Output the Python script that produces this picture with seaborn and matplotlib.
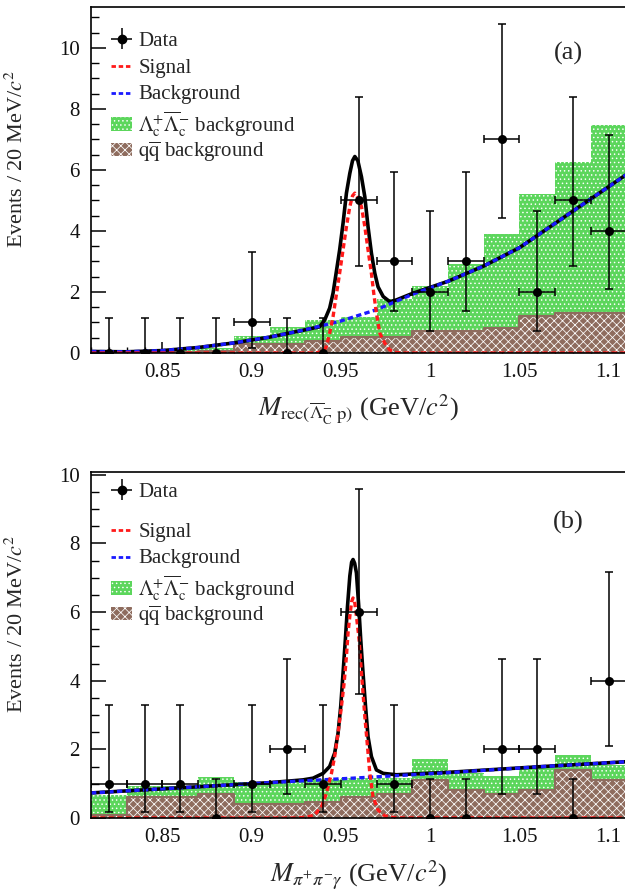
import matplotlib
matplotlib.use("Agg")
import numpy as np
import pandas as pd
import seaborn as sns
import matplotlib.pyplot as plt
from matplotlib.lines import Line2D
from matplotlib.patches import Patch
from matplotlib.ticker import MultipleLocator, FuncFormatter

# ---------------- data ----------------
bin_edges = [0.81, 0.83, 0.85, 0.87, 0.89, 0.91, 0.93, 0.95, 0.97, 0.99,
             1.01, 1.03, 1.05, 1.07, 1.09, 1.11]
bin_centers = [0.82, 0.84, 0.86, 0.88, 0.90, 0.92, 0.94, 0.96, 0.98, 1.00,
               1.02, 1.04, 1.06, 1.08, 1.10]

# panel (a)
data_a = [0, 0, 0, 0, 1, 0, 0, 5, 3, 2, 3, 7, 2, 5, 4]
errlo_a = [0, 0, 0, 0, 0.83, 0, 0, 2.16, 1.63, 1.29, 1.63, 2.58, 1.29, 2.16, 1.91]
errhi_a = [1.15, 1.15, 1.15, 1.15, 2.30, 1.15, 1.15, 3.38, 2.92, 2.64, 2.92, 3.77, 2.64, 3.38, 3.16]
lclc_a = [0.02, 0.02, 0.09, 0.15, 0.57, 0.86, 1.07, 1.17, 1.77, 2.2, 2.91, 3.89, 5.2, 6.25, 7.47]
qq_a = [0.02, 0.0, 0.02, 0.05, 0.28, 0.28, 0.39, 0.52, 0.52, 0.71, 0.71, 0.82, 1.2, 1.3, 1.3]

bkg_x_a = [0.81, 0.83, 0.85, 0.87, 0.89, 0.91, 0.93, 0.95, 0.97, 0.99, 1.01, 1.03, 1.05, 1.07, 1.09, 1.11]
bkg_y_a = [0.05, 0.04, 0.08, 0.18, 0.33, 0.52, 0.76, 1.05, 1.42, 1.92, 2.35, 2.85, 3.45, 4.25, 5.05, 5.85]
sig_x_a = [0.81, 0.935, 0.94, 0.9418, 0.9437, 0.9456, 0.9473, 0.9493, 0.9512, 0.9531, 0.955, 0.9565,
           0.9578, 0.9595, 0.9615, 0.9634, 0.9652, 0.9671, 0.9684, 0.9699, 0.9718, 0.9746, 0.9774,
           0.98, 0.985, 1.11]
sig_y_a = [0, 0, 0.04, 0.2, 0.65, 1.19, 1.85, 2.62, 3.38, 4.14, 4.8, 5.15,
           5.24, 5.09, 4.8, 4.14, 3.38, 2.61, 1.96, 1.3, 0.65, 0.32, 0.1,
           0.02, 0, 0]
tot_x_a = [0.81, 0.83, 0.85, 0.87, 0.89, 0.91, 0.93, 0.9381, 0.9409, 0.9437, 0.9456, 0.9473,
           0.9493, 0.9512, 0.9531, 0.955, 0.9565, 0.9578, 0.9595, 0.9615, 0.9634, 0.9652,
           0.9671, 0.969, 0.9708, 0.9737, 0.9774, 0.9811, 0.99, 1.01, 1.03, 1.05, 1.07, 1.09, 1.11]
tot_y_a = [0.05, 0.04, 0.08, 0.18, 0.33, 0.52, 0.76, 0.86, 1.08, 1.47, 1.96, 2.61,
           3.38, 4.25, 5.24, 5.89, 6.3, 6.44, 6.3, 5.78, 5.12, 4.14,
           3.27, 2.61, 2.17, 1.85, 1.68, 1.74, 1.95, 2.35, 2.85, 3.45, 4.25, 5.05, 5.85]

# panel (b)
data_b = [1, 1, 1, 0, 1, 2, 1, 6, 1, 0, 0, 2, 2, 0, 4]
errlo_b = [0.83, 0.83, 0.83, 0, 0.83, 1.29, 0.83, 2.38, 0.83, 0, 0, 1.29, 1.29, 0, 1.91]
errhi_b = [2.30, 2.30, 2.30, 1.15, 2.30, 2.64, 2.30, 3.58, 2.30, 1.15, 1.15, 2.64, 2.64, 1.15, 3.16]
lclc_b = [0.68, 0.93, 0.93, 1.19, 1.04, 1.04, 1.15, 1.17, 1.17, 1.71, 1.31, 1.21, 1.45, 1.84, 1.55]
qq_b = [0.1, 0.6, 0.6, 0.7, 0.41, 0.41, 0.47, 0.61, 0.7, 1.11, 0.82, 0.7, 0.82, 1.4, 1.11]

bkg_x_b = [0.81, 0.86, 0.91, 0.96, 1.01, 1.06, 1.11]
bkg_y_b = [0.73, 0.88, 1.03, 1.17, 1.32, 1.49, 1.64]
sig_x_b = [0.81, 0.925, 0.9307, 0.9353, 0.9391, 0.9419, 0.9447, 0.9465, 0.9484, 0.9503, 0.9518,
           0.9531, 0.954, 0.955, 0.956, 0.9568, 0.9577, 0.9587, 0.9602, 0.9611, 0.9621, 0.9634,
           0.9649, 0.9662, 0.968, 0.9708, 0.9746, 0.98, 0.985, 1.11]
sig_y_b = [0, 0, 0.02, 0.09, 0.33, 0.72, 1.3, 1.79, 2.47, 3.25, 3.93,
           4.71, 5.39, 5.88, 6.3, 6.41, 6.3, 5.88, 5.2, 4.52, 3.83, 2.96,
           2.08, 1.3, 0.62, 0.23, 0.06, 0.01, 0, 0]
tot_x_b = [0.81, 0.86, 0.91, 0.9287, 0.9344, 0.94, 0.9437, 0.9465, 0.9484, 0.9499, 0.9512,
           0.9525, 0.9537, 0.955, 0.956, 0.9568, 0.9577, 0.9587, 0.96, 0.9611, 0.9624, 0.9638,
           0.9652, 0.9671, 0.9699, 0.9737, 0.9811, 1.01, 1.06, 1.11]
tot_y_b = [0.73, 0.88, 1.03, 1.11, 1.16, 1.3, 1.5, 1.89, 2.47, 3.25, 4.22,
           5.2, 6.17, 7.05, 7.45, 7.53, 7.42, 7.14, 6.17, 5.2, 4.22, 3.25,
           2.37, 1.79, 1.4, 1.3, 1.26, 1.33, 1.49, 1.64]

legend_labels = ["Data", "Signal", "Background",
                 r"$\Lambda_{\mathrm{c}}^{+}\overline{\Lambda}_{\mathrm{c}}^{-}$ background",
                 r"$\mathrm{q}\overline{\mathrm{q}}$ background"]

# ---------------- style ----------------
sns.set_theme(style="ticks")
plt.rcParams["font.family"] = ["Liberation Serif", "DejaVu Serif"]
plt.rcParams["mathtext.fontset"] = "stix"
plt.rcParams["hatch.linewidth"] = 0.55

GREEN = "#5cd65c"
BROWN = "#8e6c5e"
RED = "#ff1a1a"
BLUE = "#1a1aff"
DASH = (0, (1.6, 1.0))

fig = plt.figure(figsize=(6.25, 8.9), dpi=100)
W, H = 625.0, 890.0
ax_a = fig.add_axes([91 / W, 1 - 353 / H, 535.5 / W, 346 / H])
ax_b = fig.add_axes([91 / W, 1 - 818 / H, 535.5 / W, 346 / H])


def hatch_last(ax, face, hatch):
    coll = ax.collections[-1]
    coll.set_facecolor(face)
    coll.set_edgecolor("white")
    coll.set_hatch(hatch)
    coll.set_linewidth(0)


def draw_panel(ax, data, elo, ehi, lclc, qq, bx, by, sx, sy, tx, ty,
               ytop, tag, tag_y, xlabel, leg_y):
    # stacked MC histograms
    sns.histplot(x=bin_centers, weights=lclc, bins=bin_edges, element="step",
                 fill=True, color=GREEN, alpha=1, linewidth=0, ax=ax)
    hatch_last(ax, GREEN, "....")
    sns.histplot(x=bin_centers, weights=qq, bins=bin_edges, element="step",
                 fill=True, color=BROWN, alpha=1, linewidth=0, ax=ax)
    hatch_last(ax, BROWN, "xxxx")
    sns.histplot(x=bin_centers, weights=qq, bins=bin_edges, element="step",
                 fill=False, color=BROWN, linewidth=1.5, ax=ax)

    # fit curves
    sns.lineplot(x=tx, y=ty, color="black", linewidth=2.6, ax=ax, estimator=None, sort=False)
    sns.lineplot(x=bx, y=by, color=BLUE, linewidth=2.4, linestyle=DASH, ax=ax,
                 estimator=None, sort=False)
    sns.lineplot(x=sx, y=sy, color=RED, linewidth=2.4, linestyle=DASH, ax=ax,
                 estimator=None, sort=False)

    # data points
    ax.errorbar(bin_centers, data, yerr=[elo, ehi], fmt="none", ecolor="black",
                elinewidth=1.1, capsize=2.6, capthick=1.1, zorder=6)
    xc = [c for c, d in zip(bin_centers, data) if d > 0]
    yd = [d for d in data if d > 0]
    ax.errorbar(xc, yd, xerr=0.01, fmt="none", ecolor="black",
                elinewidth=1.1, capsize=2.6, capthick=1.1, zorder=6)
    sns.scatterplot(x=bin_centers, y=data, color="black", s=42, linewidth=0,
                    zorder=7, ax=ax)

    ax.set_xlim(0.81, 1.11)
    ax.set_ylim(0, ytop)
    ax.xaxis.set_major_locator(MultipleLocator(0.05))
    ax.xaxis.set_minor_locator(MultipleLocator(0.01))
    ax.yaxis.set_major_locator(MultipleLocator(2))
    ax.yaxis.set_minor_locator(MultipleLocator(0.5))
    ax.xaxis.set_major_formatter(FuncFormatter(lambda v, p: "%g" % round(v, 3)))
    ax.yaxis.set_major_formatter(FuncFormatter(lambda v, p: "%g" % v))
    ax.tick_params(which="both", direction="in", top=False, right=False,
                   labelsize=15, color="black", labelcolor="#111111")
    ax.tick_params(axis="x", which="major", length=8, width=1.1, pad=7)
    ax.tick_params(axis="x", which="minor", length=4.5, width=1.0)
    ax.tick_params(axis="y", which="major", length=10.5, width=1.1, pad=8)
    ax.tick_params(axis="y", which="minor", length=5.5, width=1.0)
    for sp in ax.spines.values():
        sp.set_color("black")
        sp.set_linewidth(1.2)

    ax.set_ylabel("Events / 20 MeV/$c^{2}$", fontsize=16)
    ax.yaxis.label.set_va("center")
    ax.yaxis.set_label_coords(-0.138, 0.561)
    ax.set_xlabel(xlabel, fontsize=19)
    ax.xaxis.label.set_va("center")
    ax.xaxis.set_label_coords(0.5, -0.165)

    ax.text(0.891, tag_y, tag, transform=ax.transAxes, fontsize=19,
            ha="center", va="center")

    # legend entries, each placed on its own row
    hd = ax.errorbar([np.nan], [np.nan], xerr=[1], yerr=[1], fmt="o", color="black",
                     markersize=6, elinewidth=1.1, capsize=0)
    handles = [
        hd,
        Line2D([], [], color=RED, linestyle=DASH, linewidth=2.0),
        Line2D([], [], color=BLUE, linestyle=DASH, linewidth=2.0),
        Patch(facecolor=GREEN, edgecolor="white", hatch="....", linewidth=0),
        Patch(facecolor=BROWN, edgecolor="white", hatch="xxxx", linewidth=0),
    ]
    n = len(handles)
    for i, (h, lab, yy) in enumerate(zip(handles, legend_labels, leg_y)):
        lg = ax.legend([h], [lab], loc="center left", bbox_to_anchor=(0.038, yy),
                       frameon=False, fontsize=15, borderpad=0, borderaxespad=0,
                       handlelength=1.0, handleheight=0.6, handletextpad=0.3)
        if i < n - 1:
            ax.add_artist(lg)


def rows(pix, bottom):
    return [(bottom - p) / 346.0 for p in pix]


draw_panel(ax_a, data_a, errlo_a, errhi_a, lclc_a, qq_a, bkg_x_a, bkg_y_a,
           sig_x_a, sig_y_a, tot_x_a, tot_y_a, 11.34, "(a)", 0.867,
           r"$M_{\mathrm{rec}(\overline{\Lambda}_{\mathrm{C}}^{-}\ \mathrm{p})}$ (GeV/$c^{2}$)",
           rows([41, 68, 95, 124, 152], 353))
draw_panel(ax_b, data_b, errlo_b, errhi_b, lclc_b, qq_b, bkg_x_b, bkg_y_b,
           sig_x_b, sig_y_b, tot_x_b, tot_y_b, 10.08, "(b)", 0.853,
           r"$M_{\pi^{+}\pi^{-}\gamma}$ (GeV/$c^{2}$)",
           rows([492, 532, 559, 588, 616], 818))

fig.savefig("out.png", dpi=100)
